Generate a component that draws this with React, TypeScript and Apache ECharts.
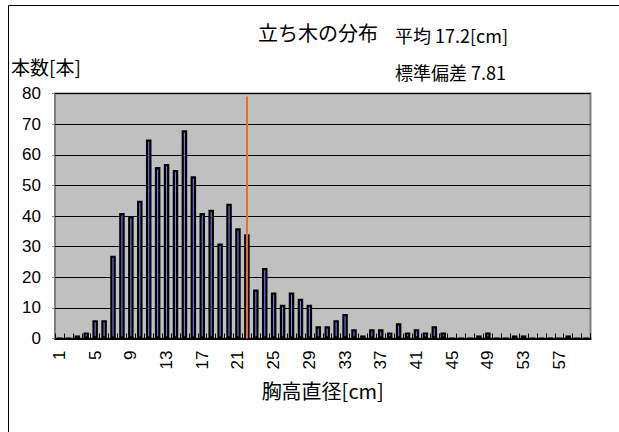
import React, { useEffect, useRef } from "react";
import * as echarts from "echarts";

// Diameter classes (cm) 1..60
const diameterClasses: string[] = Array.from({ length: 60 }, (_, i) => String(i + 1));
// Tree counts per diameter class
const treeCounts: number[] = [
  0, 0, 1, 2, 6, 6, 27, 41, 40, 45,
  65, 56, 57, 55, 68, 53, 41, 42, 31, 44,
  36, 34, 16, 23, 15, 11, 15, 13, 11, 4,
  4, 6, 8, 3, 1, 3, 3, 2, 5, 2,
  3, 2, 4, 2, 0, 0, 0, 1, 2, 0,
  0, 1, 1, 0, 0, 0, 0, 1, 0, 0,
];
const meanLineCategory = "22";
const meanLineTop = 79;
const yTicks = { min: 0, max: 80, interval: 10 };
const titleText = "立ち木の分布";
const meanText = "平均 17.2[cm]";
const sdText = "標準偏差 7.81";
const yName = "本数[本]";
const xName = "胸高直径[cm]";

const NUM_FONT = "'Liberation Sans', Arial, 'Noto Sans CJK JP', sans-serif";
const JP_FONT = "'Noto Sans CJK JP', 'Liberation Sans', sans-serif";

export default function App() {
  const ref = useRef<HTMLDivElement>(null);
  useEffect(() => {
    if (!ref.current) return;
    const chart = echarts.init(ref.current, undefined, { renderer: "svg" });
    chart.setOption({
      animation: false,
      backgroundColor: "#ffffff",
      grid: {
        left: 55,
        top: 93.5,
        right: 28.5,
        bottom: 93.5,
        show: true,
        backgroundColor: "#c0c0c0",
        borderColor: "#808080",
        borderWidth: 2,
      },
      xAxis: {
        type: "category",
        data: diameterClasses,
        boundaryGap: true,
        axisLine: { show: true, lineStyle: { color: "#000", width: 2 } },
        axisTick: {
          show: true,
          inside: true,
          length: 5,
          interval: 0,
          lineStyle: { color: "#000", width: 1 },
        },
        axisLabel: {
          interval: 3,
          rotate: 90,
          margin: 12,
          color: "#000",
          fontSize: 17,
          fontFamily: NUM_FONT,
        },
        name: xName,
        nameLocation: "middle",
        nameGap: 42,
        nameTextStyle: { color: "#000", fontSize: 20, fontFamily: JP_FONT },
      },
      yAxis: {
        type: "value",
        min: yTicks.min,
        max: yTicks.max,
        interval: yTicks.interval,
        axisLine: { show: false },
        axisTick: { show: true, length: 3, lineStyle: { color: "#808080" } },
        axisLabel: {
          color: "#000",
          fontSize: 17,
          fontFamily: NUM_FONT,
          margin: 14,
        },
        splitLine: { show: true, lineStyle: { color: "#000", width: 1 } },
      },
      series: [
        {
          type: "bar",
          data: treeCounts,
          barWidth: 5.5,
          itemStyle: {
            color: "#7b7bea",
            borderColor: "#000",
            borderWidth: 2.2,
          },
          markLine: {
            silent: true,
            symbol: "none",
            label: { show: false },
            lineStyle: { color: "#f26b1d", width: 2, type: "solid" },
            data: [
              [
                { coord: [meanLineCategory, 0] },
                { coord: [meanLineCategory, meanLineTop] },
              ],
            ],
          },
        },
      ],
      graphic: [
        {
          type: "rect",
          shape: { x: 8.5, y: 5.5, width: 700, height: 500 },
          style: { fill: "none", stroke: "#000", lineWidth: 1 },
          silent: true,
        },
        {
          type: "text",
          x: 258,
          y: 32,
          style: {
            text: titleText,
            fontSize: 20,
            fontFamily: JP_FONT,
            fill: "#000",
            textVerticalAlign: "middle",
          },
        },
        {
          type: "text",
          x: 395,
          y: 35,
          style: {
            text: meanText,
            fontSize: 18,
            fontFamily: JP_FONT,
            fill: "#000",
            textVerticalAlign: "middle",
          },
        },
        {
          type: "text",
          x: 395,
          y: 72,
          style: {
            text: sdText,
            fontSize: 18,
            fontFamily: JP_FONT,
            fill: "#000",
            textVerticalAlign: "middle",
          },
        },
        {
          type: "text",
          x: 11,
          y: 66,
          style: {
            text: yName,
            fontSize: 19,
            fontFamily: JP_FONT,
            fill: "#000",
            textVerticalAlign: "middle",
          },
        },
      ],
    });
    return () => chart.dispose();
  }, []);
  return (
    <div
      ref={ref}
      style={{ position: "fixed", left: 0, top: 0, width: 619, height: 432 }}
    />
  );
}
